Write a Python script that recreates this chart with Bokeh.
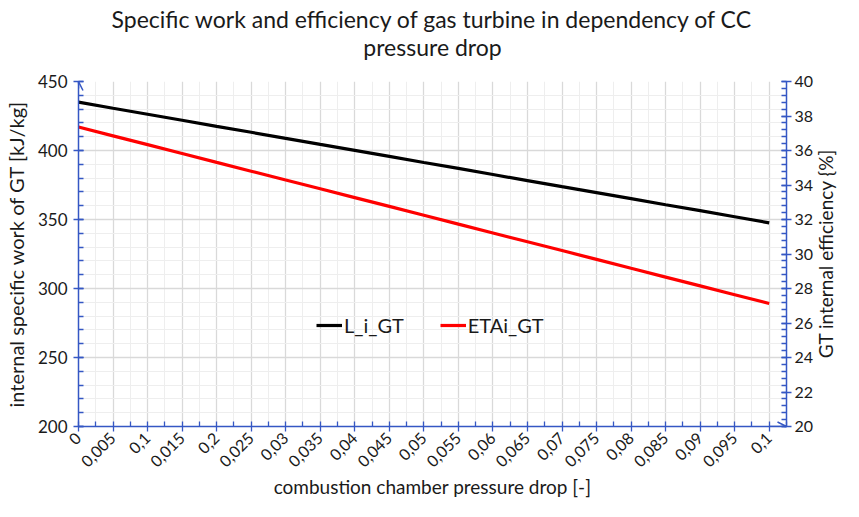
from bokeh.plotting import figure
from bokeh.models import (LinearAxis, Range1d, FixedTicker, SingleIntervalTicker,
                          Arrow, OpenHead, Label)
from bokeh.embed import file_html
from bokeh.resources import INLINE
from math import pi

# ---- data ----
x_labels = ["0", "0,005", "0,1", "0,015", "0,2", "0,025", "0,03", "0,035", "0,04",
            "0,045", "0,05", "0,055", "0,06", "0,065", "0,07", "0,075", "0,08",
            "0,085", "0,09", "0,095", "0,1"]
l_i_gt = [435.0, 430.6, 426.3, 421.9, 417.5, 413.2, 408.8, 404.4, 400.1, 395.7,
          391.3, 387.0, 382.6, 378.2, 373.8, 369.5, 365.1, 360.7, 356.4, 352.0, 347.6]
eta_i_gt = [37.36, 36.85, 36.34, 35.83, 35.31, 34.80, 34.29, 33.78, 33.27, 32.76,
            32.25, 31.73, 31.22, 30.71, 30.20, 29.69, 29.17, 28.66, 28.15, 27.64, 27.13]
y_left_range = (200, 450)
y_right_range = (20, 40)

x_pos = list(range(len(x_labels)))

FONT = "Lato"
BLUE = "#3557c4"
TXT = "#1a1a1a"

W, H = 843, 501
BL, BR, BT, BB = 74, 57, 81, 74
FH = H - BT - BB

p = figure(width=W, height=H, output_backend="svg", toolbar_location=None,
           x_range=Range1d(0, len(x_labels) - 0.5),
           y_range=Range1d(*y_left_range),
           min_border_left=BL, min_border_right=BR, min_border_top=BT,
           min_border_bottom=BB)
p.outline_line_color = None
p.background_fill_color = "white"
p.border_fill_color = "white"

p.extra_y_ranges = {"eta": Range1d(*y_right_range)}

xa = p.below[0]
ya = p.left[0]

# two-line chart title (label of a bare axis above the frame)
title_axis = LinearAxis(ticker=FixedTicker(ticks=[]),
                        axis_label="Specific work and efficiency of gas turbine in dependency of CC\npressure drop",
                        axis_line_color=None, major_tick_line_color=None,
                        minor_tick_line_color=None)
title_axis.axis_label_text_font = FONT
title_axis.axis_label_text_font_size = "23px"
title_axis.axis_label_text_font_style = "normal"
title_axis.axis_label_text_line_height = 0.98
title_axis.axis_label_text_color = TXT
title_axis.axis_label_standoff = 21
p.add_layout(title_axis, "above")

# x axis
xa.ticker = FixedTicker(ticks=x_pos, minor_ticks=[i + 0.5 for i in x_pos])
xa.major_label_overrides = {i: lab for i, lab in zip(x_pos, x_labels)}
xa.major_label_orientation = pi / 4
xa.axis_label = "combustion chamber pressure drop [-]"

# left y axis
ya.ticker = SingleIntervalTicker(interval=50, num_minor_ticks=5)
ya.axis_label = "internal specific work of GT [kJ/kg]"

# right y axis
yr = LinearAxis(y_range_name="eta",
                ticker=SingleIntervalTicker(interval=2, num_minor_ticks=5))
p.add_layout(yr, "right")

for ax in (xa, ya, yr):
    ax.axis_line_color = BLUE
    ax.axis_line_width = 1.5
    ax.major_tick_line_color = BLUE
    ax.minor_tick_line_color = BLUE
    ax.major_tick_line_width = 1.3
    ax.minor_tick_line_width = 1.3
    ax.major_tick_in = 5
    ax.major_tick_out = 5
    ax.minor_tick_in = 5
    ax.minor_tick_out = 0
    ax.major_label_text_font = FONT
    ax.major_label_text_font_size = "17px"
    ax.major_label_text_color = TXT
    ax.major_label_standoff = 6
    ax.axis_label_text_font = FONT
    ax.axis_label_text_font_size = "20px"
    ax.axis_label_text_font_style = "normal"
    ax.axis_label_text_color = TXT
    ax.axis_label_standoff = 7

yr.major_label_standoff = 3
yr.major_label_text_font_size = "16px"
yr.axis_label_standoff = 0
xa.major_label_text_font_size = "16px"
xa.major_label_standoff = 4
xa.axis_label_standoff = 0
xa.axis_label_text_font_size = "19px"

# right axis title, read bottom-to-top, in its own side panel
p.add_layout(Label(x=9, y=FH / 2, x_units="screen", y_units="screen",
                   text="GT internal efficiency {%]", angle=pi / 2,
                   text_align="center", text_baseline="middle", text_font=FONT,
                   text_font_size="19px", text_line_height=0.75,
                   text_color=TXT), "right")

# grids
p.xgrid.ticker = xa.ticker
p.ygrid.ticker = ya.ticker
for g in (p.xgrid[0], p.ygrid[0]):
    g.grid_line_color = "#d9d9d9"
    g.grid_line_width = 1.3
    g.minor_grid_line_color = "#eeeeee"
    g.minor_grid_line_width = 1

# series
p.line(x_pos, l_i_gt, line_color="black", line_width=3.2, legend_label="L_i_GT")
p.line(x_pos, eta_i_gt, line_color="red", line_width=3.2, legend_label="ETAi_GT",
       y_range_name="eta")

# axis arrows
p.add_layout(Arrow(end=OpenHead(size=9, line_color=BLUE, line_width=1.5),
                   x_start=0, y_start=y_left_range[1] - 5,
                   x_end=0, y_end=y_left_range[1],
                   line_color=BLUE, line_width=1.5))
p.add_layout(Arrow(end=OpenHead(size=9, line_color=BLUE, line_width=1.5),
                   x_start=len(x_labels) - 1, y_start=y_left_range[0],
                   x_end=len(x_labels) - 0.5, y_end=y_left_range[0],
                   line_color=BLUE, line_width=1.5))

# legend
lg = p.legend[0]
lg.location = (238, 89)
lg.orientation = "horizontal"
lg.border_line_color = None
lg.background_fill_alpha = 0
lg.padding = 0
lg.margin = 0
lg.spacing = 36
lg.glyph_width = 26
lg.glyph_height = 20
lg.label_standoff = 2
lg.label_text_font = FONT
lg.label_text_font_size = "20px"
lg.label_text_color = TXT

open("out.html", "w").write(file_html(p, INLINE))
